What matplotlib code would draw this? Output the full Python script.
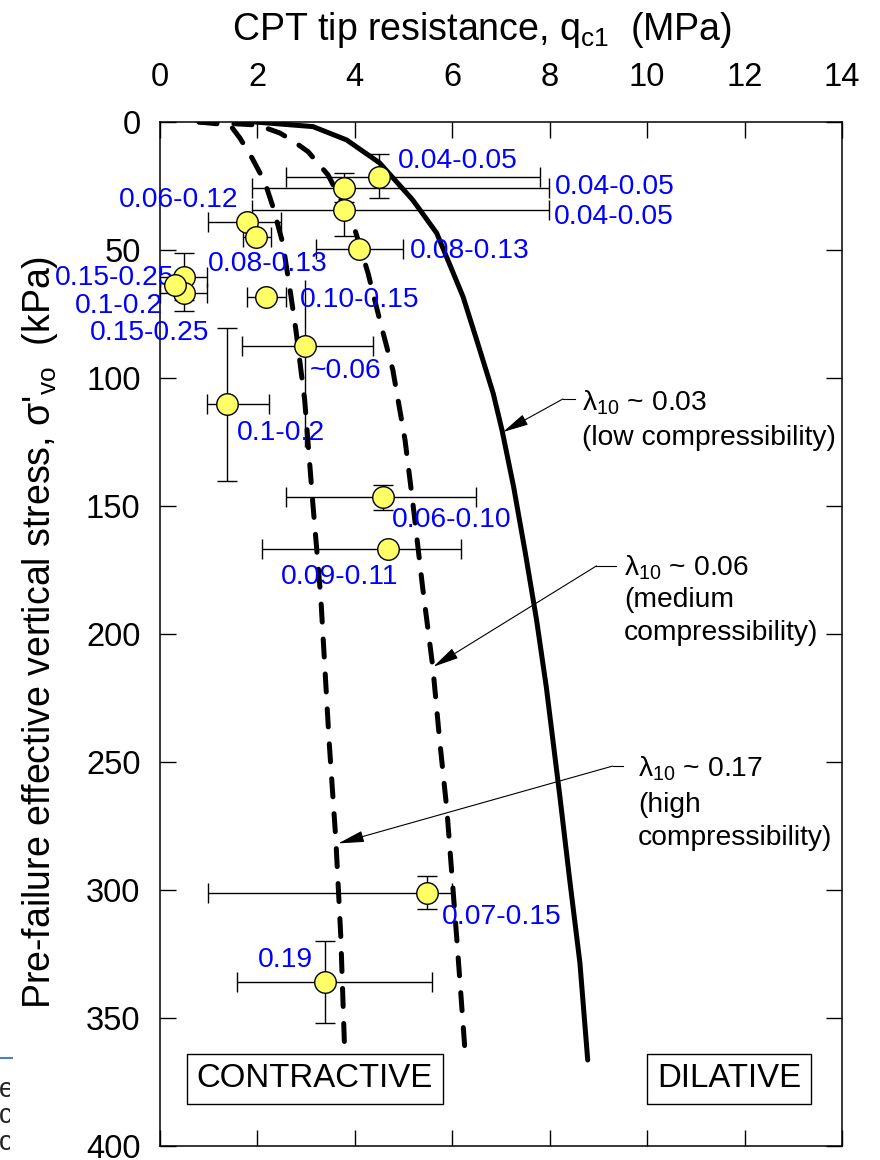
import numpy as np
import matplotlib
matplotlib.use('Agg')
import matplotlib.pyplot as plt
from matplotlib.transforms import Bbox

plt.rcParams['font.family'] = ['Liberation Sans', 'DejaVu Sans']
plt.rcParams['mathtext.fontset'] = 'custom'
plt.rcParams['mathtext.rm'] = 'Liberation Sans'
plt.rcParams['mathtext.it'] = 'Liberation Sans:italic'

# --- data (q_c1 in MPa, sigma'_vo in kPa) ---
q_c1   = [4.49, 3.78, 3.78, 4.08, 1.79, 1.98, 0.49, 0.49, 0.31, 2.18, 2.98, 1.37, 4.58, 4.68, 5.48, 3.38]
sig_vo = [21.5, 25.7, 34.4, 49.7, 38.9, 45.0, 60.4, 66.9, 63.7, 68.2, 87.4, 110.3, 146.6, 166.7, 301.0, 335.8]
q_lo   = [2.58, 1.88, 1.89, 3.20, 0.99, 1.70, 0.01, 0.01, None, 1.79, 1.69, 0.96, 2.58, 2.09, 0.98, 1.59]
q_hi   = [7.80, 7.98, 7.98, 4.98, 2.48, 2.27, 0.97, 0.97, None, 2.58, 4.38, 2.24, 6.48, 6.18, 6.00, 5.59]
s_lo   = [12.5, 20.0, 24.4, None, None, None, 51.3, 59.8, None, None, 61.7, 80.6, 141.8, None, 294.5, 320.0]
s_hi   = [29.7, 31.4, 44.4, None, None, None, 69.5, 74.0, None, None, 126.8, 140.2, 151.6, None, 307.5, 351.8]
slopes = ['0.04-0.05', '0.04-0.05', '0.04-0.05', '0.08-0.13', '0.06-0.12', '0.08-0.13',
          '0.15-0.25', '0.1-0.2', '0.15-0.25', '0.10-0.15', '~0.06', '0.1-0.2',
          '0.06-0.10', '0.09-0.11', '0.07-0.15', '0.19']

# boundary curves
lam03_q = [1.95, 3.14, 3.83, 4.51, 5.19, 5.68, 6.22, 6.52, 6.84, 7.02, 7.26, 7.50, 7.73, 7.93, 8.21, 8.41, 8.62, 8.78]
lam03_s = [0, 1.8, 7.0, 16, 30.5, 43.4, 68.2, 86.3, 106, 120.3, 142.6, 168.4, 194.5, 220.7, 263.7, 296, 328.5, 366.4]
lam06_q = [0.8, 1.37, 2.01, 2.46, 2.70, 3.04, 3.45, 3.96, 4.27, 4.51, 4.78, 5.03, 5.19, 5.39, 5.60, 5.74, 5.89, 6.09, 6.26]
lam06_s = [0, 0.5, 1.2, 4.3, 7.0, 11.6, 20.7, 39.5, 59, 77.3, 96.9, 124.2, 148.8, 181.6, 212.9, 241.4, 268.8, 318.4, 362.5]
lam17_q = [0.8, 1.44, 1.64, 1.89, 2.15, 2.32, 2.52, 2.67, 2.79, 2.97, 3.14, 3.30, 3.47, 3.61, 3.71, 3.79]
lam17_s = [0, 1.2, 6.25, 14.1, 23.4, 33.2, 47.3, 65.6, 81.3, 108.6, 149.6, 185.5, 241.4, 280.5, 317.6, 362.5]

# where the blue slope labels sit (left edge, centre)
lab_x = [4.88, 8.10, 8.08, 5.13, -0.84, 0.98, -2.15, -1.74, -1.44, 2.87, 3.08, 1.57, 4.75, 2.48, 5.78, 2.01]
lab_y = [15.2, 25.3, 37.3, 50.3, 30.5, 55.5, 60.9, 71.8, 82.4, 69.5, 97.1, 121.3, 155.5, 177.6, 310.4, 327.3]

fig = plt.figure(figsize=(8.8, 11.6), dpi=100)
ax = fig.add_axes([160/880, 14/1160, 682/880, 1024/1160])

# error bars
for i in range(len(q_c1)):
    x, y = q_c1[i], sig_vo[i]
    xe = None if q_lo[i] is None else [[x - q_lo[i]], [q_hi[i] - x]]
    ye = None if s_lo[i] is None else [[y - s_lo[i]], [s_hi[i] - y]]
    if slopes[i] == '~0.06':
        # vertical bar without caps for this one
        ax.errorbar(x, y, yerr=ye, fmt='none', ecolor='k', elinewidth=1.0, capsize=0, zorder=2)
        ye = None
    if xe is None and ye is None:
        continue
    ax.errorbar(x, y, xerr=xe, yerr=ye, fmt='none', ecolor='k', elinewidth=1.0,
                capsize=7, capthick=1.0, zorder=2)

# curves
ax.plot(lam03_q, lam03_s, color='k', lw=3.6, solid_capstyle='round', solid_joinstyle='round', zorder=3)
ax.plot(lam06_q, lam06_s, color='k', lw=3.6, ls=(0, (3.6, 3.4)), dash_capstyle='round', zorder=3)
ax.plot(lam17_q, lam17_s, color='k', lw=3.6, ls=(0, (3.6, 3.4)), dash_capstyle='round', zorder=3)

# data points
ax.plot(q_c1, sig_vo, 'o', ms=15.5, mfc='#ffff66', mec='k', mew=1.0, zorder=5)

for t, x, y in zip(slopes, lab_x, lab_y):
    ax.text(x, y, t, color='#0000ff', fontsize=20.3, ha='left', va='center',
            clip_on=False, zorder=4)

# annotations for compressibility curves
def callout(pts, tip, lines, ys, x0):
    ax.plot([pts[0][0], pts[1][0]], [pts[0][1], pts[1][1]], color='k', lw=0.8, zorder=4)
    ax.annotate('', xy=tip, xytext=pts[1],
                arrowprops=dict(arrowstyle='-|>,head_length=1.0,head_width=0.22',
                                color='k', lw=0.8, shrinkA=0, shrinkB=0, mutation_scale=16),
                zorder=4)
    for s, yy in zip(lines, ys):
        ax.text(x0, yy, s, fontsize=20.3, ha='left', va='center', zorder=4)

callout([(8.51, 108.2), (8.27, 108.2)], (7.04, 121.1),
        [r'λ$_{10}$ ~ 0.03', '(low compressibility)'], [109.5, 123.4], 8.66)
callout([(9.37, 173.4), (8.96, 173.4)], (5.61, 212.8),
        [r'λ$_{10}$ ~ 0.06', '(medium', 'compressibility)'], [174.0, 186.7, 199.6], 9.52)
callout([(9.50, 251.6), (9.29, 251.6)], (3.66, 281.8),
        [r'λ$_{10}$ ~ 0.17', '(high', 'compressibility)'], [252.8, 266.8, 279.7], 9.81)

box = dict(boxstyle='square,pad=0.3', fc='white', ec='k', lw=1.0)
ax.text(3.18, 373.8, 'CONTRACTIVE', fontsize=23.8, ha='center', va='center', bbox=box, zorder=6)
ax.text(11.69, 373.8, 'DILATIVE', fontsize=23.8, ha='center', va='center', bbox=box, zorder=6)

# axes
ax.set_xlim(0, 14)
ax.set_ylim(400, 0)
ax.set_xticks(np.arange(0, 15, 2))
ax.set_yticks(np.arange(0, 401, 50))
ax.xaxis.tick_top()
ax.tick_params(axis='both', which='both', direction='in', length=11.5, width=1.0,
               top=True, bottom=True, left=True, right=True, labelsize=23.5)
ax.tick_params(axis='x', pad=21)
ax.tick_params(axis='y', pad=14)
for sp in ax.spines.values():
    sp.set_linewidth(1.1)

fig.text(482/880, 1 - 30/1160, r'CPT tip resistance, q$_{\mathregular{c1}}$  (MPa)',
         fontsize=27, ha='center', va='center')
fig.text(40/880, 1 - 632/1160, r"Pre-failure effective vertical stress, σ'$_{\mathregular{vo}}$  (kPa)",
         fontsize=27, ha='center', va='center', rotation=90)

# clipped bits of neighbouring page at the left edge
clip = Bbox.from_extents(0, 0, 10, 1160)
ln = plt.Line2D([0, 12/880], [1 - 1058/1160] * 2, transform=fig.transFigure, color='#4f81bd', lw=1.5)
fig.add_artist(ln)
for s, yy in zip(['ey', 'c', 'o'], [1090, 1116, 1143]):
    t = fig.text(-1/880, 1 - yy/1160, s, fontsize=19.5, ha='left', va='center', color='#222222')
    t.set_clip_box(clip)
    t.set_clip_on(True)

fig.savefig('out.png', dpi=100)
